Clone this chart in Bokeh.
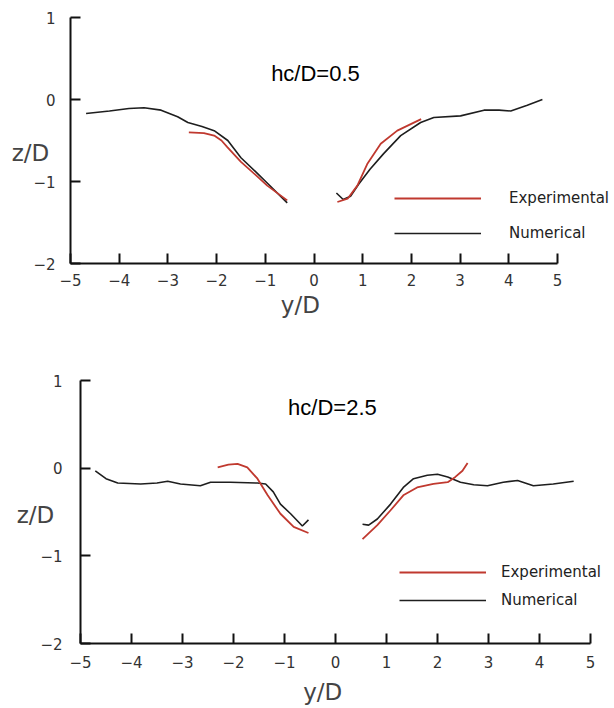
from bokeh.plotting import figure
from bokeh.layouts import column
from bokeh.models import Range1d, FixedTicker, Label, Legend, LegendItem
from bokeh.embed import file_html
from bokeh.resources import INLINE

# ---------------- data ----------------
x_ticks = [-5, -4, -3, -2, -1, 0, 1, 2, 3, 4, 5]
x_tick_labels = ["\u22125", "\u22124", "\u22123", "\u22122", "\u22121", "0", "1", "2", "3", "4", "5"]
y_ticks = [-2, -1, 0, 1]
y_tick_labels = ["\u22122", "\u22121", "0", "1"]

# hc/D = 0.5
a_num_left_x = [-4.68, -4.2, -3.8, -3.49, -3.14, -2.8, -2.59, -2.3, -2.05, -1.77, -1.5, -1.2, -0.94, -0.55]
a_num_left_y = [-0.17, -0.14, -0.11, -0.10, -0.13, -0.21, -0.28, -0.33, -0.38, -0.50, -0.71, -0.88, -1.03, -1.26]
a_num_right_x = [0.46, 0.6, 0.75, 0.92, 1.15, 1.43, 1.78, 2.19, 2.46, 3.01, 3.49, 3.8, 4.04, 4.38, 4.69]
a_num_right_y = [-1.14, -1.22, -1.18, -1.03, -0.85, -0.66, -0.44, -0.28, -0.22, -0.20, -0.13, -0.13, -0.14, -0.07, 0.0]
a_exp_left_x = [-2.57, -2.26, -2.05, -1.9, -1.78, -1.5, -1.2, -0.96, -0.55]
a_exp_left_y = [-0.40, -0.41, -0.44, -0.50, -0.58, -0.76, -0.92, -1.05, -1.23]
a_exp_right_x = [0.48, 0.69, 0.89, 1.10, 1.37, 1.71, 2.20]
a_exp_right_y = [-1.25, -1.21, -1.05, -0.78, -0.54, -0.38, -0.24]

# hc/D = 2.5
b_num_left_x = [-4.71, -4.5, -4.27, -3.82, -3.5, -3.29, -3.04, -2.65, -2.45, -2.06, -1.53, -1.37, -1.22, -1.08, -0.88, -0.65, -0.53]
b_num_left_y = [-0.03, -0.12, -0.17, -0.18, -0.17, -0.15, -0.18, -0.20, -0.16, -0.16, -0.17, -0.18, -0.27, -0.41, -0.52, -0.66, -0.59]
b_num_right_x = [0.53, 0.65, 0.82, 1.08, 1.33, 1.53, 1.80, 2.0, 2.2, 2.45, 2.71, 2.98, 3.29, 3.57, 3.88, 4.27, 4.67]
b_num_right_y = [-0.64, -0.65, -0.58, -0.41, -0.22, -0.12, -0.08, -0.07, -0.10, -0.16, -0.19, -0.20, -0.16, -0.14, -0.20, -0.18, -0.15]
b_exp_left_x = [-2.31, -2.1, -1.92, -1.73, -1.53, -1.33, -1.08, -0.82, -0.53]
b_exp_left_y = [0.01, 0.04, 0.05, 0.01, -0.12, -0.31, -0.52, -0.67, -0.74]
b_exp_right_x = [0.53, 0.82, 1.08, 1.33, 1.6, 1.92, 2.2, 2.35, 2.49, 2.59]
b_exp_right_y = [-0.81, -0.65, -0.48, -0.31, -0.22, -0.18, -0.16, -0.10, -0.03, 0.06]

titles = ["hc/D=0.5", "hc/D=2.5"]
series_names = ["Experimental", "Numerical"]
x_label = "y/D"
y_label = "z/D"

RED = "#c0392f"
BLACK = "#1e1e1e"
TICK_FONT = "DejaVu Sans"
X_LO, X_HI, Y_LO, Y_HI = -5, 5, -2, 1


def make_fig(width, height, px_left, px_right, px_top, px_bottom, tick_std_x, tick_std_y):
    # frame fills whole figure; axes drawn at fixed locations
    sx = (px_right - px_left) / (X_HI - X_LO)
    sy = (px_bottom - px_top) / (Y_HI - Y_LO)
    xr = Range1d(X_LO - px_left / sx, X_HI + (width - px_right) / sx)
    yr = Range1d(Y_LO - (height - px_bottom) / sy, Y_HI + px_top / sy)
    p = figure(width=width, height=height, x_range=xr, y_range=yr,
               output_backend="svg", toolbar_location=None,
               min_border=0, min_border_left=0, min_border_right=0,
               min_border_top=0, min_border_bottom=0)
    p.grid.visible = False
    p.outline_line_color = None
    p.background_fill_color = "white"
    p.border_fill_color = "white"
    p.xaxis.fixed_location = Y_LO
    p.yaxis.fixed_location = X_LO
    p.xaxis.bounds = (X_LO, X_HI)
    p.yaxis.bounds = (Y_LO, Y_HI)
    p.xaxis.ticker = FixedTicker(ticks=x_ticks)
    p.yaxis.ticker = FixedTicker(ticks=y_ticks)
    p.xaxis.major_label_overrides = dict(zip(x_ticks, x_tick_labels))
    p.yaxis.major_label_overrides = dict(zip(y_ticks, y_tick_labels))
    for ax in (p.xaxis[0], p.yaxis[0]):
        ax.axis_line_width = 2
        ax.axis_line_color = "#111111"
        ax.major_tick_line_width = 2
        ax.major_tick_line_color = "#111111"
        ax.major_tick_in = 10
        ax.major_tick_out = 0
        ax.minor_tick_line_color = None
        ax.major_label_text_font = TICK_FONT
        ax.major_label_text_font_size = "15px"
        ax.major_label_text_color = "#333333"
    p.xaxis.major_label_standoff = tick_std_x
    p.yaxis.major_label_standoff = tick_std_y
    return p


def add_content(p, nx, ny, ex, ey, title, tx, ty, zy, zoff, lx, ly,
                leg_loc, standoff, spacing):
    black = p.multi_line(xs=nx, ys=ny, line_color=BLACK, line_width=1.6)
    red = p.multi_line(xs=ex, ys=ey, line_color=RED, line_width=1.8)
    p.add_layout(Label(x=tx, y=ty, text=title, text_font="Liberation Sans",
                       text_font_size="22px", text_color="black",
                       text_align="center", text_baseline="alphabetic"))
    p.add_layout(Label(x=X_LO, y=zy, x_offset=zoff, text=y_label, text_font=TICK_FONT,
                       text_font_size="23px", text_color="#444444",
                       text_align="center", text_baseline="middle"))
    p.add_layout(Label(x=lx, y=ly, text=x_label, text_font=TICK_FONT,
                       text_font_size="23px", text_color="#444444",
                       text_align="center", text_baseline="middle"))
    leg = Legend(items=[LegendItem(label=series_names[0], renderers=[red]),
                        LegendItem(label=series_names[1], renderers=[black])],
                 location=leg_loc, orientation="vertical",
                 glyph_width=87, glyph_height=20, label_height=20,
                 label_standoff=standoff, spacing=spacing, padding=0, margin=0,
                 border_line_color=None, background_fill_alpha=0,
                 label_text_font=TICK_FONT, label_text_font_size="15px",
                 label_text_color="#222222")
    p.add_layout(leg)


p1 = make_fig(614, 340, 70, 557, 17, 263, 10, 15)
add_content(p1, [a_num_left_x, a_num_right_x], [a_num_left_y, a_num_right_y],
            [a_exp_left_x, a_exp_right_x], [a_exp_left_y, a_exp_right_y],
            titles[0], 0.03, 0.32, -0.65, -40, -0.28, -2.5, (394, 97), 28, 15)

p2 = make_fig(614, 368, 80, 590, 40, 303, 12, 18)
add_content(p2, [b_num_left_x, b_num_right_x], [b_num_left_y, b_num_right_y],
            [b_exp_left_x, b_exp_right_x], [b_exp_left_y, b_exp_right_y],
            titles[1], -0.06, 0.69, -0.53, -45, -0.25, -2.55, (399, 98), 15, 8)

layout = column(p1, p2, spacing=0)
open("out.html", "w").write(file_html(layout, INLINE))
